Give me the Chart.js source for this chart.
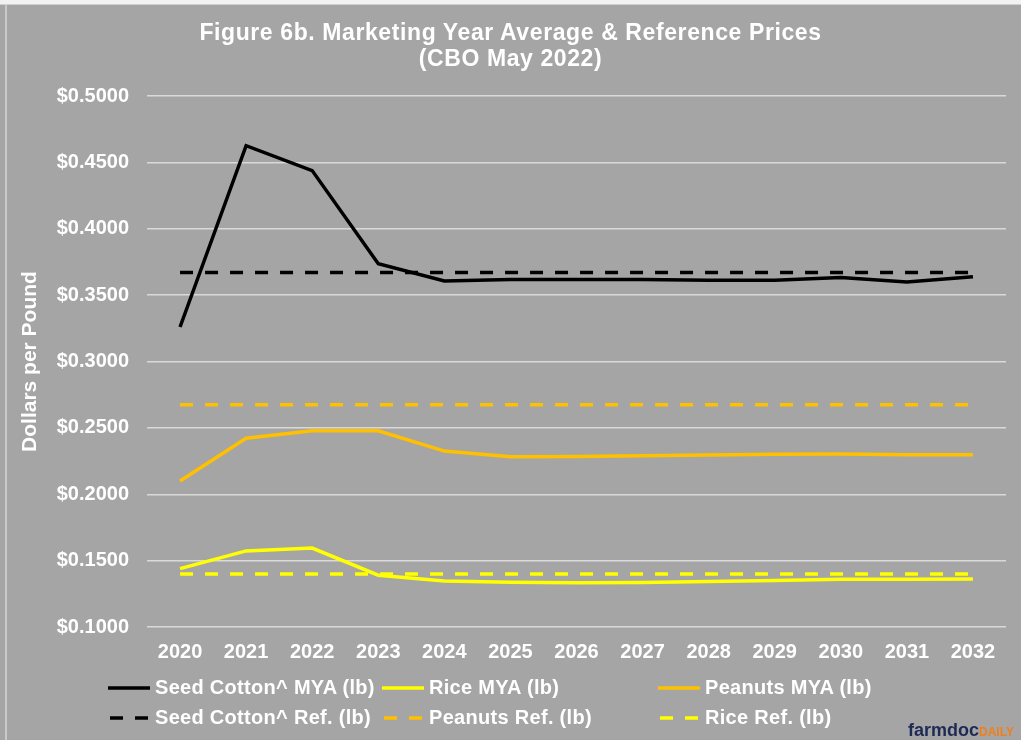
<!DOCTYPE html>
<html>
<head>
<meta charset="utf-8">
<script src="https://cdn.jsdelivr.net/npm/chart.js@4/dist/chart.umd.min.js"></script>
<style>
  html, body { margin: 0; padding: 0; }
  body { width: 1021px; height: 740px; background: #a5a5a5; position: relative; overflow: hidden;
         font-family: "Liberation Sans", Arial, sans-serif; }
  #topline { position: absolute; left: 0; top: 0; width: 1021px; height: 4px; background: #f2f2f2;
             border-bottom: 1px solid #cfcfcf; }
  #leftline { position: absolute; left: 5px; top: 5px; width: 2px; height: 735px; background: #c9c9c9; }
  #wrap { position: absolute; left: 0; top: 0; width: 1021px; height: 740px; }
  #title { position: absolute; left: 0; top: 19px; width: 1021px; text-align: center; color: #fff;
           font-weight: bold; font-size: 23px; line-height: 26px; letter-spacing: 0.6px; }
  #legend { position: absolute; left: 0; top: 0; width: 1021px; height: 740px; pointer-events: none; }
  .item { position: absolute; display: flex; align-items: center; color: #fff; font-weight: bold;
          font-size: 20px; letter-spacing: 0.3px; white-space: nowrap; }
  .item svg { margin-right: 5px; }
  #logo { position: absolute; left: 908px; top: 720px; font-weight: bold; white-space: nowrap; }
  #logo .a { color: #1e2a55; font-size: 18px; }
  #logo .b { color: #f07f1a; font-size: 12px; }
</style>
</head>
<body>
<div id="wrap"><canvas id="chart" width="1021" height="740"></canvas></div>
<div id="topline"></div>
<div id="leftline"></div>
<div id="title">Figure 6b. Marketing Year Average &amp; Reference Prices<br>(CBO May 2022)</div>
<div id="legend"></div>
<div id="logo"><span class="a">farmdoc</span><span class="b">DAILY</span></div>
<script>
// data
const years = ['2020','2021','2022','2023','2024','2025','2026','2027','2028','2029','2030','2031','2032'];
const seedCottonMya = [0.326, 0.4626, 0.4438, 0.3736, 0.3607, 0.3617, 0.3618, 0.3617, 0.3612, 0.3612, 0.3632, 0.3598, 0.3638];
const riceMya = [0.1440, 0.1573, 0.1595, 0.1390, 0.1347, 0.1337, 0.1333, 0.1335, 0.1342, 0.1350, 0.1360, 0.1360, 0.1362];
const peanutsMya = [0.2100, 0.2422, 0.2478, 0.2478, 0.2325, 0.2282, 0.2285, 0.2290, 0.2295, 0.2302, 0.2303, 0.2298, 0.2298];
const seedCottonRef = [0.367, 0.367, 0.367, 0.367, 0.367, 0.367, 0.367, 0.367, 0.367, 0.367, 0.367, 0.367, 0.367];
const peanutsRef = [0.2675, 0.2675, 0.2675, 0.2675, 0.2675, 0.2675, 0.2675, 0.2675, 0.2675, 0.2675, 0.2675, 0.2675, 0.2675];
const riceRef = [0.14, 0.14, 0.14, 0.14, 0.14, 0.14, 0.14, 0.14, 0.14, 0.14, 0.14, 0.14, 0.14];

const BLACK = '#000000', YELLOW = '#ffff00', ORANGE = '#ffc000';
const DASH = [13, 12];
const FONT = '"Liberation Sans", Arial, sans-serif';

function line(label, data, color, dashed, order) {
    return {
        label: label,
        data: data,
        borderColor: color,
        backgroundColor: color,
        borderWidth: 3.5,
        borderDash: dashed ? DASH : [],
        pointRadius: 0,
        tension: 0,
        fill: false,
        order: order
    };
}

const datasets = [
    line('Seed Cotton^ MYA (lb)', seedCottonMya, BLACK, false, 1),
    line('Rice MYA (lb)', riceMya, YELLOW, false, 1),
    line('Peanuts MYA (lb)', peanutsMya, ORANGE, false, 1),
    line('Seed Cotton^ Ref. (lb)', seedCottonRef, BLACK, true, 2),
    line('Peanuts Ref. (lb)', peanutsRef, ORANGE, true, 2),
    line('Rice Ref. (lb)', riceRef, YELLOW, true, 2)
];

new Chart(document.getElementById('chart'), {
    type: 'line',
    data: { labels: years, datasets: datasets },
    options: {
        responsive: false,
        animation: false,
        layout: { padding: { top: 96, left: 18, right: 15, bottom: 73 } },
        plugins: {
            legend: { display: false },
            tooltip: { enabled: false }
        },
        scales: {
            x: {
                offset: true,
                grid: { display: false, drawTicks: false },
                border: { display: false },
                ticks: { color: '#ffffff', font: { family: FONT, size: 20, weight: 'bold' }, padding: 13, maxRotation: 0 },
                afterFit: s => { s.height = 40; }
            },
            y: {
                min: 0.1,
                max: 0.5,
                grid: { color: '#d9d9d9', lineWidth: 1.5, drawTicks: false },
                border: { display: false },
                ticks: {
                    stepSize: 0.05,
                    color: '#ffffff',
                    font: { family: FONT, size: 20, weight: 'bold' },
                    padding: 18,
                    callback: v => '$' + v.toFixed(4)
                },
                title: {
                    display: true,
                    text: 'Dollars per Pound',
                    color: '#ffffff',
                    font: { family: FONT, size: 21, weight: 'bold' },
                    padding: 0
                },
                afterFit: s => { s.width = 129; }
            }
        }
    }
});

// legend laid out in the same grid as the original
const legendPos = [
    [108, 688], [382, 688], [658, 688],
    [108, 718], [382, 718], [658, 718]
];
const legend = document.getElementById('legend');
datasets.forEach((d, i) => {
    const el = document.createElement('div');
    el.className = 'item';
    el.style.left = legendPos[i][0] + 'px';
    el.style.top = (legendPos[i][1] - 12) + 'px';
    const dashed = d.borderDash.length > 0;
    el.innerHTML = `<svg width="42" height="8"><line x1="${dashed ? 2 : 0}" y1="4" x2="42" y2="4" stroke="${d.borderColor}" stroke-width="3.5" ${dashed ? 'stroke-dasharray="13 12"' : ''}/></svg><span>${d.label}</span>`;
    legend.appendChild(el);
});
</script>
</body>
</html>
